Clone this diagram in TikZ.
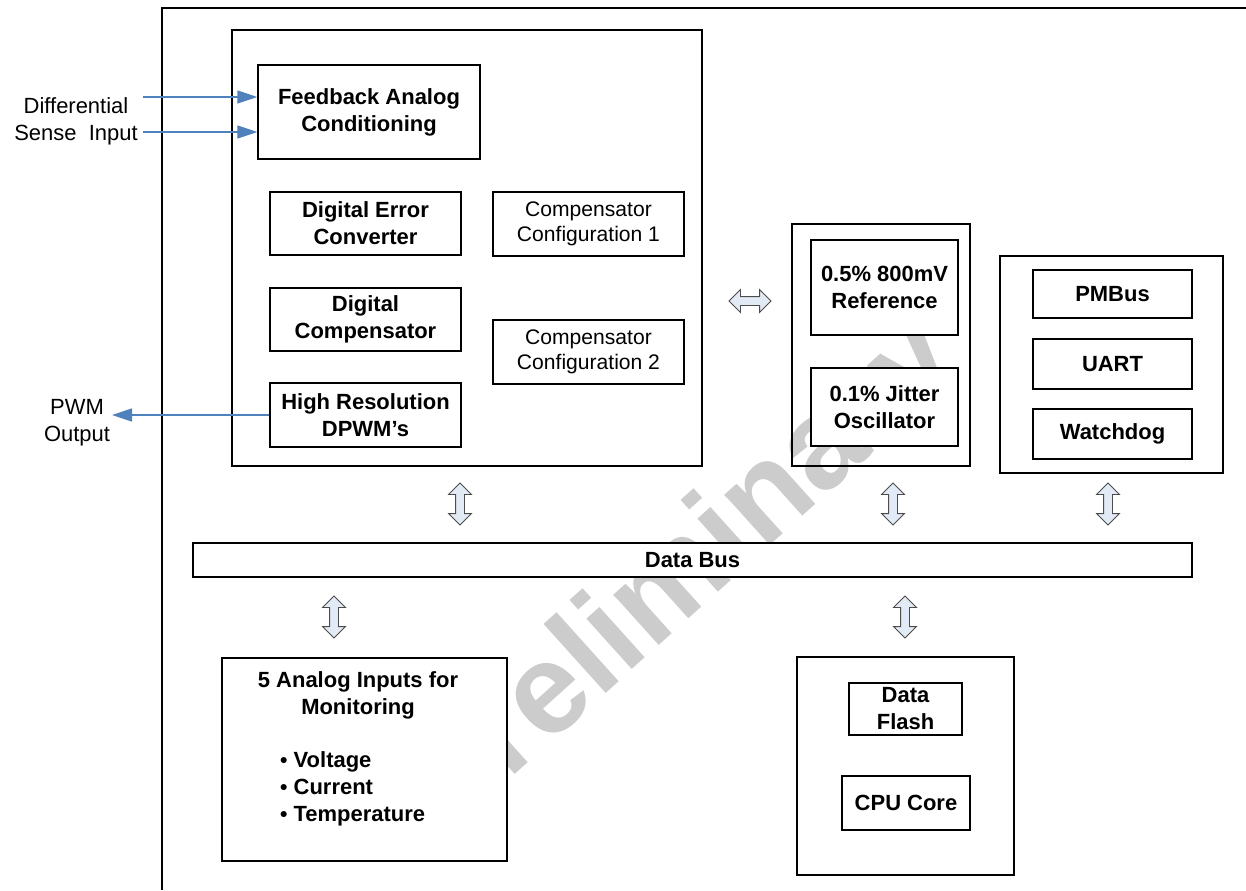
\documentclass[tikz,border=0pt]{standalone}
\usepackage{fontspec}
\setmainfont{Liberation Sans}
\usetikzlibrary{arrows.meta,shapes.arrows}

\definecolor{sigblue}{RGB}{79,129,189}
\definecolor{arrowfill}{RGB}{226,234,245}

\tikzset{
  blk/.style={draw, line width=0.8pt, fill=white, align=center, inner sep=0pt,
    font=\fontsize{12.5}{15.4}\selectfont\bfseries},
  cfg/.style={draw, line width=0.8pt, fill=white, align=center, inner sep=0pt,
    font=\fontsize{12}{14.2}\selectfont},
  grp/.style={draw, line width=0.8pt, inner sep=0pt},
  lbl/.style={align=center, font=\fontsize{12.5}{15.4}\selectfont},
  dbl/.style={shape=double arrow, draw=gray!60!black, fill=arrowfill, line width=0.5pt,
    inner xsep=0pt, inner ysep=0.8mm, double arrow head extend=1.4mm, minimum height=8.4mm},
  sig/.style={draw=sigblue, line width=0.8pt, -{Triangle[length=4mm,width=2.6mm]}}
}

\begin{document}
\begin{tikzpicture}[x=0.2mm, y=-0.2mm]
  \useasboundingbox (0,0) rectangle (1246,890);
  % watermark
  \node[rotate=42, anchor=base, text=gray!40, font=\fontsize{73}{73}\selectfont\bfseries] (wm) at (705,604) {Preliminary};
  % chip frame
  \draw[line width=1pt] (162,890) -- (162,8) -- (1246,8);

  % control loop
  \node[grp, minimum width=94mm, minimum height=87.2mm] (dsp) at (467,248) {};
  \node[blk, minimum width=44.4mm, minimum height=18.8mm] (fb) at (369,112) {Feedback Analog\\Conditioning};
  \node[blk, minimum width=38.2mm, minimum height=12.6mm] (err) at (365.5,223.5) {Digital Error\\Converter};
  \node[cfg, minimum width=38.2mm, minimum height=12.8mm] (cfg1) at (588.5,224) {Compensator\\Configuration 1};
  \node[blk, minimum width=38.2mm, minimum height=12.6mm] (comp) at (365.5,319.5) {Digital\\Compensator};
  \node[cfg, minimum width=38.2mm, minimum height=12.8mm] (cfg2) at (588.5,352) {Compensator\\Configuration 2};
  \node[blk, minimum width=38.2mm, minimum height=12.8mm] (dpwm) at (365.5,415) {High Resolution\\DPWM’s};

  % reference and clock
  \node[grp, minimum width=35.6mm, minimum height=48.4mm] (refblk) at (881,345) {};
  \node[blk, minimum width=29.4mm, minimum height=19mm] (vref) at (884.5,287.5) {0.5\% 800mV\\Reference};
  \node[blk, minimum width=29.4mm, minimum height=15.6mm] (osc) at (884.5,407) {0.1\% Jitter\\Oscillator};

  % interfaces
  \node[grp, minimum width=44.6mm, minimum height=43.4mm] (ifblk) at (1111.5,364.5) {};
  \node[blk, minimum width=31.8mm, minimum height=9.6mm] (pmbus) at (1112.5,294) {PMBus};
  \node[blk, minimum width=31.8mm, minimum height=10mm] (uart) at (1112.5,364) {UART};
  \node[blk, minimum width=31.8mm, minimum height=10mm] (wdog) at (1112.5,434) {Watchdog};

  % bus
  \node[blk, minimum width=199.8mm, minimum height=6.8mm] (bus) at (692.5,560) {Data Bus};

  % monitoring
  \node[blk, minimum width=57mm, minimum height=40.6mm] (ain) at (364.5,759.5) {};
  \node[lbl, font=\fontsize{12.5}{15.4}\selectfont\bfseries] (aintitle) at (358,695) {5 Analog Inputs for\\Monitoring};
  \node[lbl, align=left, anchor=west, font=\fontsize{12.5}{15.4}\selectfont\bfseries] (ainlist) at (274,789) {{\large\textbullet}\ Voltage\\{\large\textbullet}\ Current\\{\large\textbullet}\ Temperature};

  % processor
  \node[grp, minimum width=43.4mm, minimum height=43.6mm] (cpublk) at (905.5,766) {};
  \node[blk, minimum width=22.6mm, minimum height=10.4mm] (flash) at (905.5,709) {Data\\Flash};
  \node[blk, minimum width=25.6mm, minimum height=10.8mm] (core) at (906,803) {CPU Core};

  % block arrows
  \node[dbl] (a0) at (750,301) {};
  \node[dbl, rotate=90] (a1) at (460,504) {};
  \node[dbl, rotate=90] (a2) at (893,504) {};
  \node[dbl, rotate=90] (a3) at (1108,504) {};
  \node[dbl, rotate=90] (a4) at (334,617) {};
  \node[dbl, rotate=90] (a5) at (905,617) {};

  % pins
  \node[lbl] (sense) at (76,121) {Differential\\Sense\ \ Input};
  \node[lbl] (pwm) at (77,423) {PWM\\Output};
  \coordinate (in1) at (143,97);
  \coordinate (in2) at (143,132);
  \coordinate (pwmout) at (112,415);
  \draw[sig] (in1) -- (in1 -| fb.west);
  \draw[sig] (in2) -- (in2 -| fb.west);
  \draw[sig] (dpwm.west) -- (pwmout);
\end{tikzpicture}
\end{document}
